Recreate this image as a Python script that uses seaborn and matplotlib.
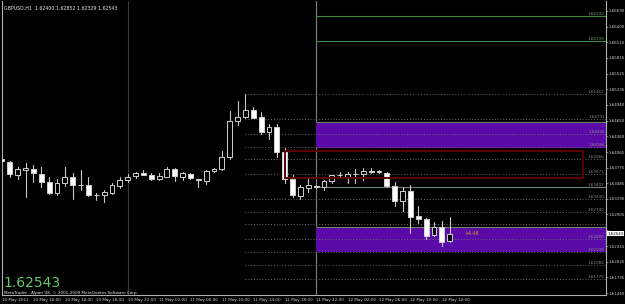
import matplotlib
matplotlib.use("Agg")
import matplotlib.pyplot as plt
import seaborn as sns
import pandas as pd
from matplotlib.patches import Rectangle

# ---------------- data ----------------
opens = [1.63935, 1.63879, 1.63637, 1.63730, 1.63749, 1.63656, 1.63507, 1.63302, 1.63488, 1.63600,
         1.63451, 1.63451, 1.63265, 1.63265, 1.63302, 1.63432, 1.63544, 1.63618, 1.63674, 1.63637,
         1.63563, 1.63600, 1.63749, 1.63600, 1.63656, 1.63563, 1.63525, 1.63712, 1.63749, 1.63972,
         1.64642, 1.64717, 1.64847, 1.64717, 1.64438, 1.64531, 1.64065, 1.63563, 1.63246, 1.63395,
         1.63432, 1.63414, 1.63525, 1.63637, 1.63600, 1.63656, 1.63656, 1.63712, 1.63712, 1.63674,
         1.63432, 1.63153, 1.63339, 1.62874, 1.62818, 1.62520, 1.62669, 1.62400]
highs = [1.63940, 1.63898, 1.63786, 1.63860, 1.63823, 1.63786, 1.63600, 1.63563, 1.63786, 1.63674,
         1.63730, 1.63600, 1.63302, 1.63358, 1.63488, 1.63600, 1.63656, 1.63693, 1.63730, 1.63674,
         1.63674, 1.63786, 1.63768, 1.63693, 1.63674, 1.63563, 1.63730, 1.63768, 1.64084, 1.64829,
         1.65015, 1.65145, 1.64903, 1.64810, 1.64587, 1.64587, 1.64140, 1.63637, 1.63451, 1.63600,
         1.63442, 1.63544, 1.63637, 1.63693, 1.63693, 1.63749, 1.63768, 1.63768, 1.63739, 1.63693,
         1.63507, 1.63414, 1.63451, 1.63060, 1.62837, 1.62762, 1.62781, 1.62852]
lows = [1.63890, 1.63600, 1.63563, 1.63227, 1.63507, 1.63414, 1.63283, 1.63265, 1.63432, 1.63190,
        1.63358, 1.63246, 1.63172, 1.63134, 1.63283, 1.63395, 1.63507, 1.63581, 1.63628, 1.63553,
        1.63553, 1.63591, 1.63525, 1.63544, 1.63563, 1.63414, 1.63470, 1.63693, 1.63730, 1.63935,
        1.64568, 1.64698, 1.64689, 1.64400, 1.64307, 1.63972, 1.63488, 1.63227, 1.63190, 1.63321,
        1.63404, 1.63358, 1.63488, 1.63581, 1.63488, 1.63488, 1.63544, 1.63674, 1.63674, 1.63414,
        1.63060, 1.62967, 1.62557, 1.62743, 1.62445, 1.62501, 1.62315, 1.62390]
closes = [1.63898, 1.63656, 1.63749, 1.63768, 1.63674, 1.63507, 1.63302, 1.63488, 1.63600, 1.63451,
          1.63442, 1.63265, 1.63260, 1.63321, 1.63451, 1.63544, 1.63600, 1.63674, 1.63637, 1.63563,
          1.63618, 1.63749, 1.63618, 1.63674, 1.63581, 1.63544, 1.63712, 1.63749, 1.63972, 1.64642,
          1.64717, 1.64847, 1.64698, 1.64438, 1.64531, 1.64065, 1.63563, 1.63265, 1.63414, 1.63451,
          1.63414, 1.63525, 1.63637, 1.63640, 1.63656, 1.63660, 1.63712, 1.63693, 1.63693, 1.63432,
          1.63153, 1.63339, 1.62855, 1.62818, 1.62501, 1.62669, 1.62390, 1.62543]

time_label_bars = [0, 4, 8, 12, 16, 20, 24, 28, 32, 36, 40, 44, 48, 52, 56]
time_labels = ["10 May 2011", "10 May 10:00", "10 May 14:00", "10 May 18:00", "10 May 22:00",
               "11 May 02:00", "11 May 06:00", "11 May 10:00", "11 May 14:00", "11 May 18:00",
               "11 May 22:00", "12 May 02:00", "12 May 06:00", "12 May 10:00", "12 May 14:00"]
price_ticks = [1.61440, 1.61735, 1.62025, 1.62315, 1.62610, 1.62905, 1.63195, 1.63485, 1.63775,
               1.64065, 1.64360, 1.64650, 1.64940, 1.65235, 1.65525, 1.65815, 1.66110, 1.66400, 1.66690]
hidden_tick = 1.62610

separator_bars = [16, 40]
green_levels = [1.66597, 1.66131]
solid_levels = [1.64623, 1.63413, 1.62669]
dotted_levels = [1.65145, 1.64680, 1.64400, 1.64158, 1.63935, 1.63656, 1.63190, 1.62948,
                 1.62725, 1.62446, 1.62204, 1.61961, 1.61701]
level_labels = ["1.66592", "1.66139", "1.65167", "1.64731", "1.64436", "1.64186", "1.63966",
                "1.63571", "1.63407", "1.63330", "1.62740", "1.62466", "1.62238", "1.62084", "1.61775"]
level_label_prices = [1.66597, 1.66131, 1.65145, 1.64680, 1.64400, 1.64158, 1.63935,
                      1.63656, 1.63413, 1.63190, 1.62948, 1.62446, 1.62204, 1.61961, 1.61701]
purple_boxes = [(1.64140, 1.64623), (1.62203, 1.62669)]
red_box = (36, 74, 1.63581, 1.64084)
last_price = 1.62543
title = "GBPUSD,H1  1.62400 1.62852 1.62329 1.62543"

# ---------------- style ----------------
sns.set_theme(style="dark", rc={"axes.facecolor": "black", "figure.facecolor": "black",
                                "axes.grid": False})
plt.rcParams['font.family'] = ['DejaVu Sans']

W, H = 625, 304
fig = plt.figure(figsize=(W / 100, H / 100), dpi=100, facecolor="black")
ax = fig.add_axes([2 / W, 9 / H, 604 / W, 294 / H])
ax.set_facecolor("black")

XMIN, XMAX = 0.064, 0.064 + 604 / 7.86
YMIN, YMAX = 1.61403, 1.66876

n = len(opens)
bars = list(range(n))

# period separators
for b in separator_bars:
    ax.axvline(b, color="#3a3a3a" if b == 16 else "#808080", lw=0.8, zorder=1)

# purple zones
for lo, hi in purple_boxes:
    ax.add_patch(Rectangle((40, lo), XMAX - 40, hi - lo, facecolor="#5a0aa6",
                           edgecolor="none", zorder=1.5))

# dotted levels
for lv in dotted_levels:
    ax.hlines(lv, 31, XMAX, colors="#747474", linestyles=(0, (1.2, 2.2)), lw=0.6, zorder=2)
# solid levels
for lv in solid_levels:
    ax.hlines(lv, 40, XMAX, colors="#6f806f", lw=0.8, zorder=2.2)
for lv in green_levels:
    ax.hlines(lv, 40, XMAX, colors="#3e8a3e", lw=0.8, zorder=2.2)

# level labels
for txt, lv in zip(level_labels, level_label_prices):
    ax.text(XMAX - 0.15, lv, txt, ha="right", va="bottom", fontsize=3.0,
            color="#7a9a7a" if lv in green_levels else "#8a8a8a", zorder=6)

# wicks (seaborn)
wick = pd.DataFrame({"bar": bars + bars, "price": lows + highs})
sns.lineplot(data=wick, x="bar", y="price", units="bar", estimator=None, sort=False,
             color="#c8c8c8", lw=0.8, ax=ax, legend=False, zorder=3)

# bodies
bottoms = [min(o, c) for o, c in zip(opens, closes)]
heights = [abs(c - o) for o, c in zip(opens, closes)]
faces = ["white" if c < o else "black" for o, c in zip(opens, closes)]
ax.bar(bars, heights, bottom=bottoms, width=0.62, color=faces, edgecolor="#cfcfcf",
       linewidth=0.7, zorder=4)

# red rectangle
x0, x1, lo, hi = red_box
ax.add_patch(Rectangle((x0, lo), x1 - x0, hi - lo, facecolor="none", edgecolor="#5e0000",
                       lw=1.4, zorder=5))

# price change text
ax.text(58.9, 1.62545, "+4.48", fontsize=3.4, color="#e0a020", va="center", ha="left", zorder=6)

ax.set_xlim(XMIN, XMAX)
ax.set_ylim(YMIN, YMAX)
ax.set_xlabel("")
ax.set_ylabel("")

ax.set_xticks(time_label_bars)
ax.set_xticklabels(time_labels, ha="left", fontsize=3.0, color="#d0d0d0")
ax.yaxis.tick_right()
ax.set_yticks(price_ticks)
ax.set_yticklabels(["" if p == hidden_tick else f"{p:.5f}" for p in price_ticks],
                   fontsize=2.9, color="#d0d0d0")
ax.tick_params(axis="both", direction="out", length=1.2, width=0.5, colors="#b0b0b0", pad=0.3)
ax.tick_params(axis="x", labelcolor="#d0d0d0", pad=0.6)
ax.tick_params(axis="y", labelcolor="#d0d0d0")

ax.spines["top"].set_visible(False)
for s in ["left", "right", "bottom"]:
    ax.spines[s].set_visible(True)
    ax.spines[s].set_color("#b0b0b0")
    ax.spines[s].set_linewidth(0.8)

# current price label
ax.annotate(f"{last_price:.5f}", xy=(1.0, last_price), xycoords=("axes fraction", "data"),
            xytext=(1.0, 0), textcoords="offset points", fontsize=2.9, color="black",
            va="center", ha="left", annotation_clip=False, zorder=10,
            bbox=dict(boxstyle="square,pad=0.12", fc="white", ec="none"))

# texts
ax.text(0.003, 0.985, title, transform=ax.transAxes, fontsize=3.4, color="#e8e8e8",
        ha="left", va="top")
ax.text(0.003, 0.018, f"{last_price:.5f}", transform=ax.transAxes, fontsize=10,
        color="#64c864", ha="left", va="bottom")
ax.text(0.003, 0.0, "MetaTrader - Alpari UK, \u00a9 2001-2009 MetaQuotes Software Corp.",
        transform=ax.transAxes, fontsize=3.0, color="#e8e8e8", ha="left", va="bottom")

fig.savefig("out.png", dpi=100, facecolor="black")
